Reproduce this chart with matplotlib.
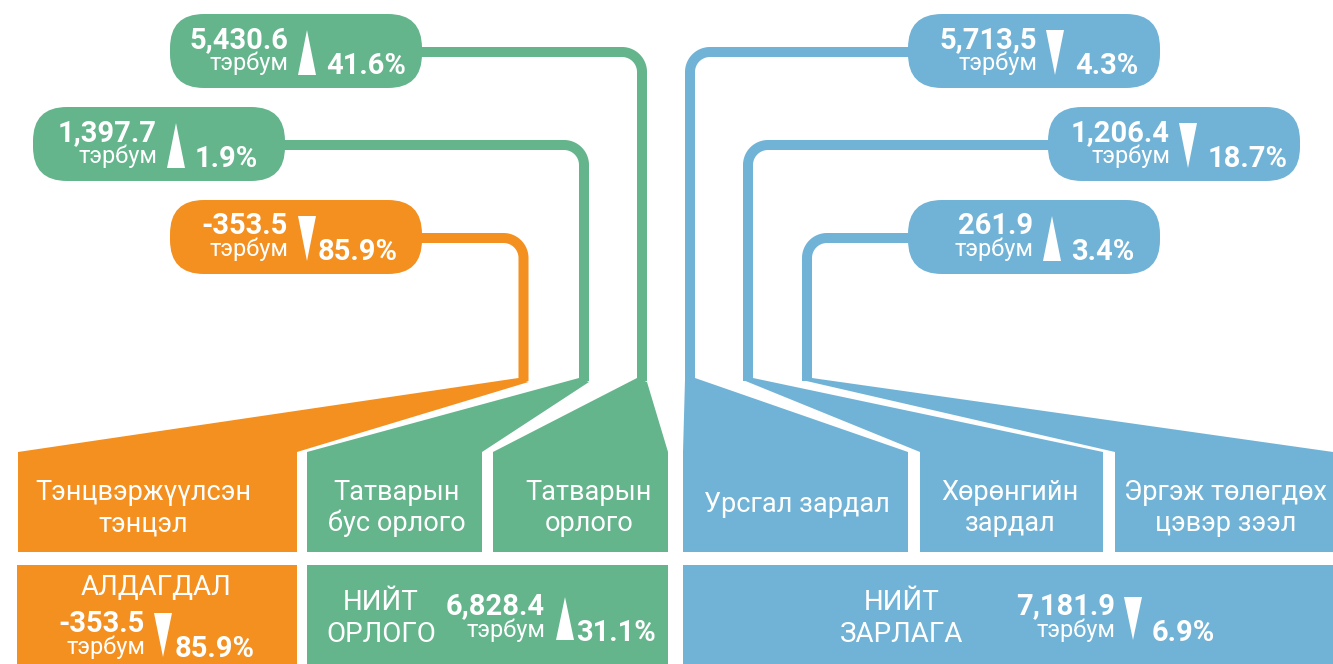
import numpy as np
import matplotlib
matplotlib.use("Agg")
import matplotlib.pyplot as plt
from matplotlib.patches import FancyBboxPatch, Polygon

# ---------------- data ----------------
categories = ["Тэнцвэржүүлсэн\nтэнцэл", "Татварын\nбус орлого", "Татварын\nорлого",
              "Урсгал зардал", "Хөрөнгийн\nзардал", "Эргэж төлөгдөх\nцэвэр зээл"]
value_labels = ["-353.5", "1,397.7", "5,430.6", "5,713,5", "1,206.4", "261.9"]
change_pct = [85.9, 1.9, 41.6, 4.3, 18.7, 3.4]
change_dir = ["down", "up", "up", "down", "down", "up"]
total_titles = ["АЛДАГДАЛ", "НИЙТ\nОРЛОГО", "НИЙТ\nЗАРЛАГА"]
total_values = ["-353.5", "6,828.4", "7,181.9"]
total_pct = [85.9, 31.1, 6.9]
total_dir = ["down", "up", "down"]
unit = "тэрбум"

# ---------------- style / layout ----------------
ORANGE = "#f39020"
GREEN = "#64b48c"
BLUE = "#71b3d6"
item_colors = [ORANGE, GREEN, GREEN, BLUE, BLUE, BLUE]
total_colors = [ORANGE, GREEN, BLUE]

pill_left = [170, 33, 170, 908, 1048, 908]
pill_top = [200, 107, 14, 14, 107, 200]
pill_w, pill_h = 252, 74
val_x = [288, 157, 288, 1037, 1170, 1033]
tri_x = [307, 176, 307, 1055, 1188, 1052]
pct_x = [318, 195, 326, 1075, 1208, 1071]
line_x = [523.5, 584, 642, 690, 748, 807]
box_x0 = [18, 307, 493, 683, 920, 1115]
box_x1 = [297, 482, 668, 908, 1103, 1333]
label_cx = [143, 397, 589, 797, 1010, 1226]

tot_x0 = [17, 307, 683]
tot_x1 = [297, 668, 1333]

UNIT_FS = 17

plt.rcParams['font.family'] = ['Roboto', 'DejaVu Sans']

fig = plt.figure(figsize=(13.33, 6.64), dpi=100)
ax = fig.add_axes([0, 0, 1, 1])
ax.set_xlim(0, 1333)
ax.set_ylim(664, 0)
ax.axis('off')

LW = 10 * 72 / 100  # 10 px


def triangle(cx, ytop, ybot, direction, w=18):
    if direction == "up":
        pts = [(cx, ytop), (cx + w / 2, ybot), (cx - w / 2, ybot)]
    else:
        pts = [(cx - w / 2, ytop), (cx + w / 2, ytop), (cx, ybot)]
    ax.add_patch(Polygon(pts, closed=True, fc="white", ec="none", zorder=5))


def connector(x0, y, xv, ybot, color, r=20):
    d = np.sign(xv - x0)
    cx, cy = xv - d * r, y + r
    t = np.linspace(0, np.pi / 2, 30)
    ax_ = [x0] + list(cx + d * r * np.sin(t)) + [xv]
    ay_ = [y] + list(cy - r * np.cos(t)) + [ybot]
    ax.plot(ax_, ay_, color=color, lw=LW, solid_capstyle='butt',
            solid_joinstyle='round', zorder=1)


for i in range(6):
    c = item_colors[i]
    left, top = pill_left[i], pill_top[i]
    ycen = top + pill_h / 2 + 1
    # connector
    start = left + pill_w / 2
    connector(start, ycen, line_x[i], 381, c)
    # pill
    ax.add_patch(FancyBboxPatch((left, top), pill_w, pill_h,
                                boxstyle="round,pad=0,rounding_size=34",
                                fc=c, ec="none", zorder=3))
    ax.text(val_x[i], top + 34, value_labels[i], color="white", fontsize=21,
            fontweight="bold", ha="right", va="baseline", zorder=6)
    ax.text(val_x[i], top + 56, unit, color="white", fontsize=UNIT_FS,
            ha="right", va="baseline", zorder=6)
    triangle(tri_x[i], top + 16, top + 61, change_dir[i])
    ax.text(pct_x[i], top + 60, f"{change_pct[i]:.1f}%", color="white",
            fontsize=21, fontweight="bold", ha="left", va="baseline", zorder=6)
    # fan + category box
    lx = line_x[i]
    if i < 3:
        ytl, ytr = 378, 382
    else:
        ytl, ytr = 380, 378
    pts = [(lx - 5, ytl), (lx + 5, ytr), (box_x1[i], 452), (box_x1[i], 552),
           (box_x0[i], 552), (box_x0[i], 452)]
    ax.add_patch(Polygon(pts, closed=True, fc=c, ec="none", zorder=2))
    lines = categories[i].split("\n")
    if len(lines) == 1:
        ax.text(label_cx[i], 512, lines[0], color="white", fontsize=19.5,
                ha="center", va="baseline", zorder=6)
    else:
        ax.text(label_cx[i], 500, lines[0], color="white", fontsize=19.5,
                ha="center", va="baseline", zorder=6)
        ax.text(label_cx[i], 531, lines[1], color="white", fontsize=19.5,
                ha="center", va="baseline", zorder=6)

# totals
for j in range(3):
    c = total_colors[j]
    ax.add_patch(Polygon([(tot_x0[j], 565), (tot_x1[j], 565), (tot_x1[j], 664),
                          (tot_x0[j], 664)], closed=True, fc=c, ec="none", zorder=2))

# deficit box
ax.text(156, 595, total_titles[0], color="white", fontsize=20, ha="center",
        va="baseline", zorder=6)
ax.text(145, 632, total_values[0], color="white", fontsize=21, fontweight="bold",
        ha="right", va="baseline", zorder=6)
ax.text(145, 654, unit, color="white", fontsize=UNIT_FS, ha="right", va="baseline", zorder=6)
triangle(163, 613, 657, total_dir[0])
ax.text(175, 657, f"{total_pct[0]:.1f}%", color="white", fontsize=21,
        fontweight="bold", ha="left", va="baseline", zorder=6)

# revenue / expenditure boxes
title_cx = [None, 381, 902]
val_rx = [None, 545, 1115]
tri_cx = [None, 565, 1133]
pct_lx = [None, 576, 1152]
for j in (1, 2):
    t1, t2 = total_titles[j].split("\n")
    ax.text(title_cx[j], 610, t1, color="white", fontsize=20, ha="center",
            va="baseline", zorder=6)
    ax.text(title_cx[j], 642, t2, color="white", fontsize=20, ha="center",
            va="baseline", zorder=6)
    ax.text(val_rx[j], 614, total_values[j], color="white", fontsize=21,
            fontweight="bold", ha="right", va="baseline", zorder=6)
    ax.text(val_rx[j], 637, unit, color="white", fontsize=UNIT_FS, ha="right",
            va="baseline", zorder=6)
    triangle(tri_cx[j], 597, 640, total_dir[j])
    ax.text(pct_lx[j], 641, f"{total_pct[j]:.1f}%", color="white", fontsize=21,
            fontweight="bold", ha="left", va="baseline", zorder=6)

fig.savefig("out.png", dpi=100)
